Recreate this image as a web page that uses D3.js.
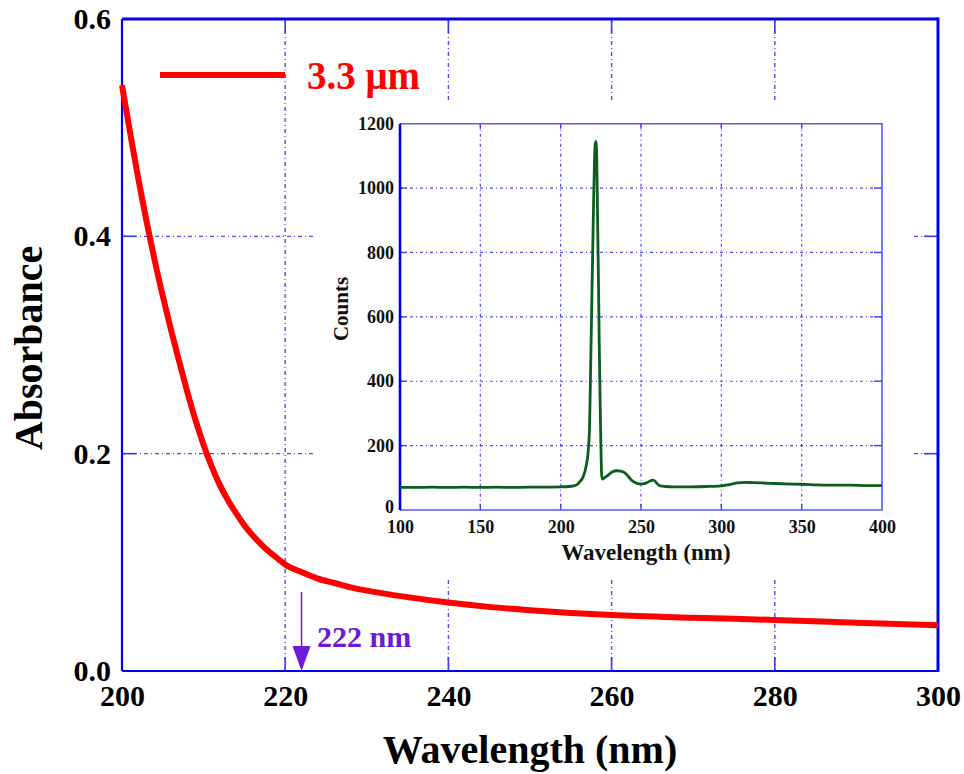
<!DOCTYPE html>
<html><head><meta charset="utf-8">
<script src="https://cdn.jsdelivr.net/npm/d3@7"></script>
<style>
html,body{margin:0;padding:0;background:#fff;}
</style></head>
<body>
<svg id="c" width="964" height="774" font-family="'Liberation Serif', 'Times New Roman', serif" font-weight="bold"></svg>
<script>
// ---- main absorbance curve ----
const absWavelength = [200,201,202,203,204,205,206,207,208,209,210,211,212,213,214,215,216,217,218,219,220,222,224,226,228,230,235,240,245,250,260,270,280,290,300];
const absValues = [0.539,0.495,0.453,0.414,0.378,0.345,0.314,0.285,0.257,0.231,0.208,0.188,0.171,0.157,0.145,0.134,0.125,0.117,0.110,0.104,0.098,0.091,0.085,0.081,0.077,0.074,0.068,0.063,0.059,0.056,0.0515,0.049,0.047,0.0445,0.042];
const mainXTicks = [200,220,240,260,280,300];
const mainYTicks = [0,0.2,0.4,0.6];
const legendLabel = "3.3 μm";
const markerWavelength = 222;
const markerLabel = "222 nm";

// ---- inset emission spectrum ----
const insetWavelength = [100,110,120,130,140,150,160,170,180,190,200,205,208,210,212,214,216,217,218,218.5,219,219.5,220,220.5,221,221.5,222,222.5,223,223.5,224,224.5,225,225.5,226,228,230,232,235,238,240,242,244,246,248,250,252,254,256,257.5,259,260,262,265,270,280,290,300,305,310,315,320,330,340,350,360,370,380,390,400];
const insetCounts = [70,70,71,70,71,70,71,70,71,71,72,73,75,78,88,103,140,175,263,400,538,680,820,960,1075,1135,1145,1080,900,720,520,360,210,110,96,103,110,118,122,120,115,105,93,86,82,81,82,86,91,93,88,82,75,73,72,72,73,75,79,84,86,85,83,81,80,78,77,77,76,76,75];
const insetXTicks = [100,150,200,250,300,350,400];
const insetYTicks = [0,200,400,600,800,1000,1200];

const FONT = "'Liberation Serif', 'Times New Roman', serif";
const svg = d3.select("#c");
const x = d3.scaleLinear([200,300],[122,938]);
const y = d3.scaleLinear([0,0.6],[671,19]);
const xi = d3.scaleLinear([100,400],[400,882]);
const yi = d3.scaleLinear([0,1200],[510,123.7]);

const gridColor = "#4b4bf0";
const dash = "4,3,1,3";

// main grid
const g = svg.append("g");
g.selectAll(".vg").data(mainXTicks.slice(1,-1)).join("line")
  .attr("x1",d=>x(d)).attr("x2",d=>x(d)).attr("y1",y(0.6)).attr("y2",y(0))
  .attr("stroke",gridColor).attr("stroke-width",1.4).attr("stroke-dasharray",dash);
g.selectAll(".hg").data(mainYTicks.slice(1,-1)).join("line")
  .attr("x1",x(200)).attr("x2",x(300)).attr("y1",d=>y(d)).attr("y2",d=>y(d))
  .attr("stroke",gridColor).attr("stroke-width",1.4).attr("stroke-dasharray",dash);
mainXTicks.slice(1,-1).forEach(v=>{
  [[y(0),y(0)-14],[y(0.6),y(0.6)+14]].forEach(([a,b])=>g.append("line").attr("x1",x(v)).attr("x2",x(v)).attr("y1",a).attr("y2",b).attr("stroke","#3a3af0").attr("stroke-width",1.6));
});
mainYTicks.slice(1,-1).forEach(v=>{
  [[x(200),x(200)+14],[x(300),x(300)-14]].forEach(([a,b])=>g.append("line").attr("y1",y(v)).attr("y2",y(v)).attr("x1",a).attr("x2",b).attr("stroke","#3a3af0").attr("stroke-width",1.6));
});

// white box behind inset
svg.append("rect").attr("x",315).attr("y",101).attr("width",596).attr("height",479).attr("fill","#fff");

// ---- inset ----
const ig = svg.append("g");
ig.selectAll(".ivg").data(insetXTicks.slice(1,-1)).join("line")
  .attr("x1",d=>xi(d)).attr("x2",d=>xi(d)).attr("y1",yi(1200)).attr("y2",yi(0))
  .attr("stroke",gridColor).attr("stroke-width",1.2).attr("stroke-dasharray","3,3,1,3");
ig.selectAll(".ihg").data(insetYTicks.slice(1,-1)).join("line")
  .attr("x1",xi(100)).attr("x2",xi(400)).attr("y1",d=>yi(d)).attr("y2",d=>yi(d))
  .attr("stroke",gridColor).attr("stroke-width",1.2).attr("stroke-dasharray","3,3,1,3");
insetXTicks.slice(1,-1).forEach(v=>{
  [[yi(0),yi(0)-6],[yi(1200),yi(1200)+5]].forEach(([a,b])=>ig.append("line").attr("x1",xi(v)).attr("x2",xi(v)).attr("y1",a).attr("y2",b).attr("stroke","#4040f0").attr("stroke-width",1.4));
});
insetYTicks.slice(1,-1).forEach(v=>{
  [[xi(100),xi(100)+7],[xi(400),xi(400)-8]].forEach(([a,b])=>ig.append("line").attr("y1",yi(v)).attr("y2",yi(v)).attr("x1",a).attr("x2",b).attr("stroke","#4040f0").attr("stroke-width",1.4));
});
ig.append("path").attr("d",`M${xi(100)},${yi(1200)}H${xi(400)}V${yi(0)}H${xi(100)}`)
  .attr("fill","none").attr("stroke","#5a5af0").attr("stroke-width",1.6);
ig.append("line").attr("x1",xi(100)).attr("x2",xi(100)).attr("y1",yi(1200)).attr("y2",yi(0))
  .attr("stroke","#0000ee").attr("stroke-width",2.6);
const insetData = insetWavelength.map((w,i)=>[w,insetCounts[i]]);
ig.append("path").datum(insetData)
  .attr("d",d3.line().x(d=>xi(d[0])).y(d=>yi(d[1])).curve(d3.curveMonotoneX))
  .attr("fill","none").attr("stroke","#0b5e1e").attr("stroke-width",2.8).attr("stroke-linejoin","round");
const ixa = ig.append("g").attr("transform",`translate(0,${yi(0)})`)
  .call(d3.axisBottom(xi).tickValues(insetXTicks).tickSize(0).tickPadding(10).tickFormat(d3.format("d")));
ixa.attr("font-family",FONT).attr("font-size",18);
ixa.select(".domain").remove();
ixa.selectAll("text").attr("font-family",FONT).attr("font-weight","bold").attr("font-size",18).attr("fill","#111");
const iya = ig.append("g").attr("transform",`translate(${xi(100)},0)`)
  .call(d3.axisLeft(yi).tickValues(insetYTicks).tickSize(0).tickPadding(6).tickFormat(d3.format("d")));
iya.attr("font-family",FONT).attr("font-size",18);
iya.select(".domain").remove();
iya.selectAll("text").attr("font-family",FONT).attr("font-weight","bold").attr("font-size",18).attr("fill","#111");
iya.selectAll(".tick").filter(d=>d===0).select("text").attr("dy","0.15em");
ig.append("text").attr("x",646).attr("y",560).attr("text-anchor","middle").attr("font-family",FONT).attr("font-size",23).attr("fill","#111").text("Wavelength (nm)");
ig.append("text").attr("transform","translate(348,309) rotate(-90)").attr("text-anchor","middle").attr("font-family",FONT).attr("font-size",21).attr("fill","#111").text("Counts");

// ---- main frame ----
svg.append("line").attr("x1",x(200)).attr("x2",x(300)).attr("y1",y(0.6)).attr("y2",y(0.6)).attr("stroke","#0000ee").attr("stroke-width",3);
svg.append("line").attr("x1",x(300)).attr("x2",x(300)).attr("y1",y(0.6)-1.5).attr("y2",y(0)+1).attr("stroke","#0000ee").attr("stroke-width",3);
svg.append("line").attr("x1",x(200)).attr("x2",x(300)).attr("y1",y(0)).attr("y2",y(0)).attr("stroke","#0000ee").attr("stroke-width",2.2);
svg.append("line").attr("x1",x(200)).attr("x2",x(200)).attr("y1",y(0.6)).attr("y2",y(0)).attr("stroke","#0000ee").attr("stroke-width",2.2);

// main curve
const absData = absWavelength.map((w,i)=>[w,absValues[i]]);
svg.append("path").datum(absData)
  .attr("d",d3.line().x(d=>x(d[0])).y(d=>y(d[1])).curve(d3.curveMonotoneX))
  .attr("fill","none").attr("stroke","#ff0000").attr("stroke-width",6).attr("stroke-linecap","butt");

// main axes labels
const xa = svg.append("g").attr("transform",`translate(0,${y(0)})`)
  .call(d3.axisBottom(x).tickValues(mainXTicks).tickSize(0).tickPadding(14).tickFormat(d3.format("d")));
xa.attr("font-family",FONT).attr("font-size",30);
xa.select(".domain").remove();
xa.selectAll("text").attr("font-family",FONT).attr("font-weight","bold").attr("font-size",30).attr("fill","#000");
const ya = svg.append("g").attr("transform",`translate(${x(200)},0)`)
  .call(d3.axisLeft(y).tickValues(mainYTicks).tickSize(0).tickPadding(11).tickFormat(d3.format(".1f")));
ya.attr("font-family",FONT).attr("font-size",30);
ya.select(".domain").remove();
ya.selectAll("text").attr("font-family",FONT).attr("font-weight","bold").attr("font-size",30).attr("fill","#000");
svg.append("text").attr("x",530).attr("y",763).attr("text-anchor","middle").attr("font-family",FONT).attr("font-size",40).attr("fill","#000").text("Wavelength (nm)");
svg.append("text").attr("transform","translate(42,348) rotate(-90)").attr("text-anchor","middle").attr("font-family",FONT).attr("font-size",40).attr("fill","#000").text("Absorbance");

// legend
svg.append("line").attr("x1",160).attr("x2",285).attr("y1",75).attr("y2",75).attr("stroke","#ff0000").attr("stroke-width",6);
svg.append("text").attr("x",307).attr("y",89).attr("font-family",FONT).attr("font-size",39).attr("fill","#ff0000").text(legendLabel);

// 222 nm marker
const mc = "#6a1ad8";
svg.append("line").attr("x1",x(markerWavelength)).attr("x2",x(markerWavelength)).attr("y1",592).attr("y2",650).attr("stroke",mc).attr("stroke-width",1.5);
svg.append("path").attr("d",`M${x(markerWavelength)-9},646L${x(markerWavelength)+9},646L${x(markerWavelength)},${y(0)}Z`).attr("fill",mc);
svg.append("text").attr("x",317).attr("y",647).attr("font-family",FONT).attr("font-size",30).attr("fill",mc).text(markerLabel);
</script>
</body></html>
